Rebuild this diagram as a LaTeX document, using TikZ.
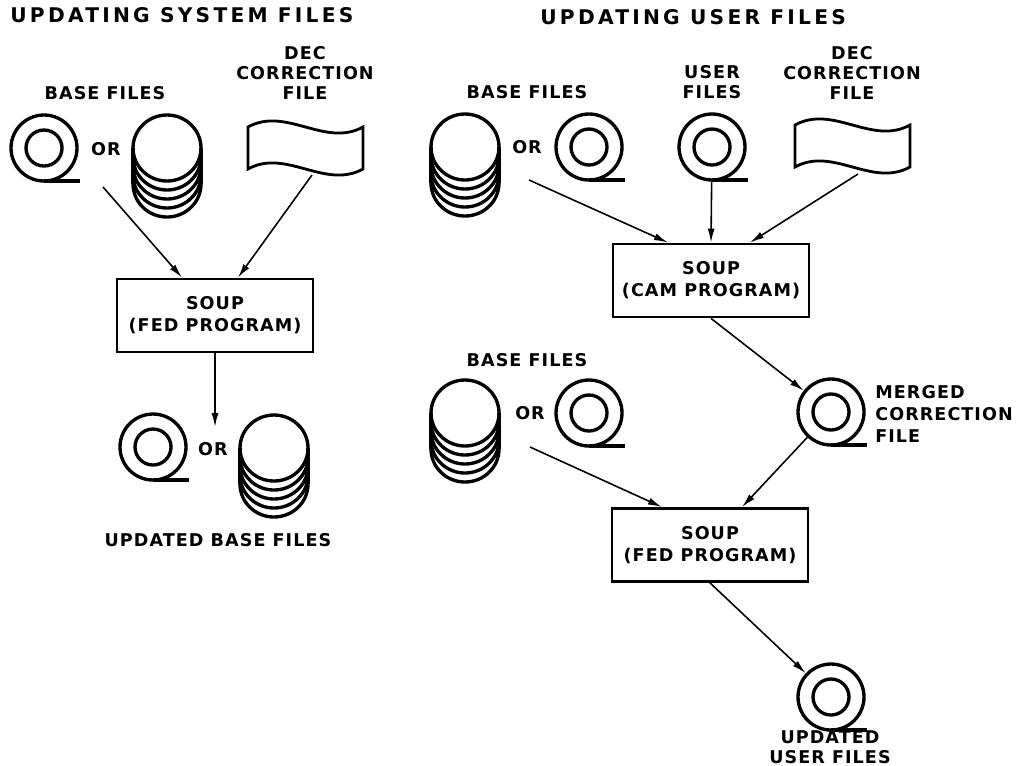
\documentclass[tikz,border=0pt]{standalone}
\usepackage{fontspec}
\newfontfamily\lettering[LetterSpace=6]{DejaVu Sans Bold}
\newfontfamily\headlettering[LetterSpace=16]{DejaVu Sans Bold}
\usetikzlibrary{arrows.meta,calc,positioning}
\tikzset{
  pics/reelhub/.style={code={
    \draw[ink] (0,0) circle[radius=18];
    \draw[ink] (0,33) -- (36,33);}},
  pics/diskpack/.style={code={
    \draw[ink] (0,0) ellipse[x radius=34, y radius=33];
    \foreach \k in {1,...,4}
      \draw[ink] (-34,9*\k) arc[start angle=180, end angle=0, x radius=34, y radius=33];
    \draw[ink] (-34,0) -- (-34,36) (34,0) -- (34,36);}},
  pics/papertape/.style={code={
    \draw[ink, line width=1.6pt] (-57,-22) .. controls (-19,-43) and (20,-1) .. (58,-22)
      -- (58,20) .. controls (20,41) and (-19,-1) .. (-57,20) -- cycle;}}
}
\begin{document}
\begin{tikzpicture}[x=0.02cm, y=-0.02cm,
  ink/.style={line width=1.9pt},
  reel/.style={circle, draw, ink, minimum size=1.32cm, inner sep=0pt},
  prog/.style={draw, line width=1.6pt, minimum width=3.92cm, minimum height=1.46cm, align=center, font=\lettering\fontsize{10}{12.5}\selectfont},
  lbl/.style={align=center, inner sep=0pt, font=\lettering\fontsize{10}{11.3}\selectfont},
  head/.style={anchor=west, inner sep=0pt, font=\headlettering\fontsize{11.5}{13}\selectfont},
  flow/.style={-{Latex[length=8pt,width=4pt]}, line width=0.9pt}]
\useasboundingbox (0,0) rectangle (1016,765);

% system files
\node[head] (sysT) at (10,15) {UPDATING SYSTEM FILES};
\node[lbl] (baseL) at (105,93) {BASE FILES};
\node[reel] (reelL) at (44,148) {}; \pic at (reelL) {reelhub};
\node[lbl] (orL) at (106,149) {OR};
\pic at (167,148) {diskpack};
\node[lbl] (decL) at (305,73) {DEC\\CORRECTION\\FILE};
\coordinate (tapeL) at (305,149); \pic at (tapeL) {papertape};
\node[prog] (fedL) at (215,315.5) {SOUP\\(FED PROGRAM)};
\coordinate (srcL) at (103,187);
\coordinate (tapeLout) at (312,175);
\coordinate (outL) at (215,427);
\draw[flow] (srcL) -- ($(fedL.north)+(-33,0)$);
\draw[flow] (tapeLout) -- ($(fedL.north)+(23,0)$);
\draw[flow] (fedL.south) -- (outL);
\node[reel] (reelL2) at (153,447) {}; \pic at (reelL2) {reelhub};
\node[lbl] (orL2) at (213,449) {OR};
\pic at (274,448) {diskpack};
\node[lbl] (updL) at (218,540) {UPDATED BASE FILES};

% user files
\node[head] (usrT) at (540,17) {UPDATING USER FILES};
\node[lbl] (baseR) at (527,92) {BASE FILES};
\pic at (465,147) {diskpack};
\node[lbl] (orR) at (527,147) {OR};
\node[reel] (reelR) at (589,147) {}; \pic at (reelR) {reelhub};
\node[lbl] (userT) at (712,82.5) {USER\\FILES};
\node[reel] (userR) at (712,147) {}; \pic at (userR) {reelhub};
\node[lbl] (decR) at (852,73) {DEC\\CORRECTION\\FILE};
\coordinate (tapeR) at (852,147); \pic at (tapeR) {papertape};
\node[prog] (cam) at (711,280.5) {SOUP\\(CAM PROGRAM)};
\coordinate (srcR) at (529,180);
\coordinate (tapeRout) at (858,174);
\draw[flow] (srcR) -- ($(cam.north)+(-43,0)$);
\draw[flow] (userR) -- (cam.north);
\draw[flow] (tapeRout) -- ($(cam.north)+(39,0)$);

\node[lbl] (baseR2) at (527,360) {BASE FILES};
\pic at (465,413) {diskpack};
\node[lbl] (orR2) at (530,413) {OR};
\node[reel] (reelR2) at (589,413) {}; \pic at (reelR2) {reelhub};
\node[reel] (merged) at (831,412) {}; \pic at (merged) {reelhub};
\node[lbl, anchor=west, align=left, font=\lettering\fontsize{10}{12.5}\selectfont] (mergedT) at (875,414) {MERGED\\CORRECTION\\FILE};
\node[prog] (fedR) at (710,545) {SOUP\\(FED PROGRAM)};
\coordinate (srcR2) at (530,447);
\draw[flow] (cam.south) -- (merged);
\draw[flow] (srcR2) -- ($(fedR.north)+(-48,0)$);
\draw[flow] (merged) -- ($(fedR.north)+(32,0)$);
\node[reel] (updR) at (831,697) {}; \pic at (updR) {reelhub};
\draw[flow] (fedR.south) -- (updR);
\node[lbl] (updT) at (830,747) {UPDATED\\USER FILES};
\end{tikzpicture}
\end{document}
